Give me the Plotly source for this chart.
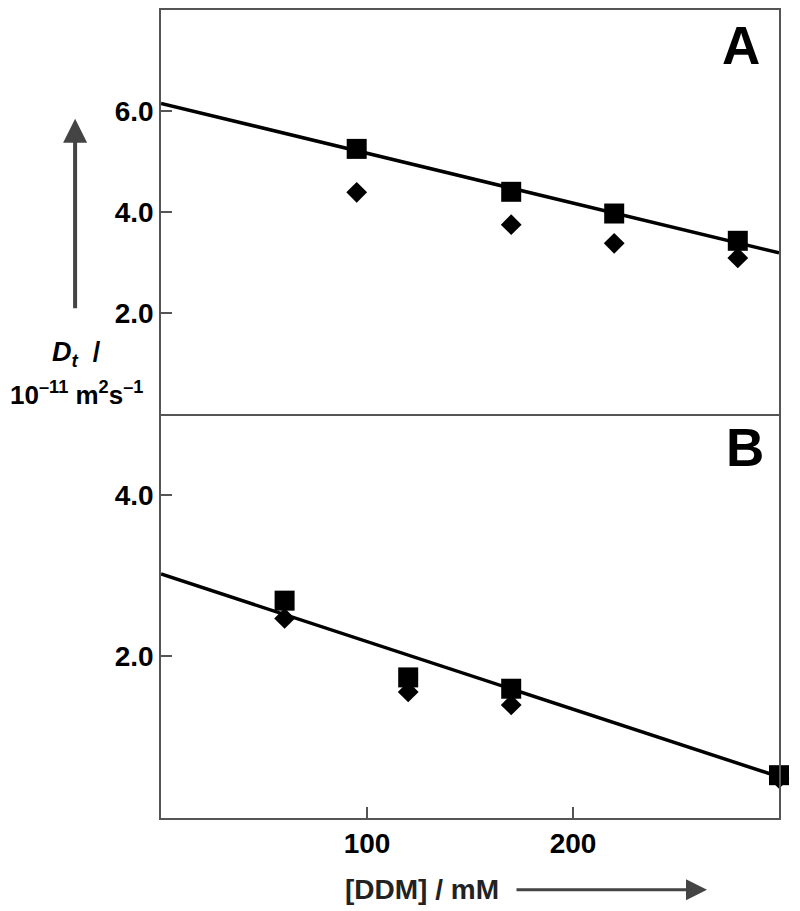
import plotly.graph_objects as go
from plotly.subplots import make_subplots

# panel A data
a_x = [95, 170, 220, 280]
a_sq = [5.25, 4.40, 3.97, 3.43]
a_di = [4.39, 3.75, 3.38, 3.09]
a_fit_x = [0, 300]
a_fit_y = [6.15, 3.19]

# panel B data
b_x = [60, 120, 170, 300]
b_sq = [2.69, 1.74, 1.60, 0.53]
b_di = [2.47, 1.56, 1.40, 0.49]
b_fit_x = [0, 300]
b_fit_y = [3.02, 0.51]

a_ticks = [2, 4, 6]
a_ticklabels = ["2.0", "4.0", "6.0"]
b_ticks = [2, 4]
b_ticklabels = ["2.0", "4.0"]
x_ticks = [100, 200]
x_ticklabels = ["100", "200"]

FONT = "Arial, Liberation Sans, sans-serif"
FRAME = "#555555"


def bold(labels):
    return ["<b>%s</b>" % t for t in labels]


fig = make_subplots(rows=2, cols=1, shared_xaxes=False, vertical_spacing=0)

for row, xs, sq, di, fx, fy in [(1, a_x, a_sq, a_di, a_fit_x, a_fit_y),
                                (2, b_x, b_sq, b_di, b_fit_x, b_fit_y)]:
    fig.add_trace(go.Scatter(x=fx, y=fy, mode="lines",
                             line=dict(color="black", width=3.5)), row=row, col=1)
    fig.add_trace(go.Scatter(x=xs, y=di, mode="markers", cliponaxis=False,
                             marker=dict(symbol="diamond", size=16, color="black")),
                  row=row, col=1)
    fig.add_trace(go.Scatter(x=xs, y=sq, mode="markers", cliponaxis=False,
                             marker=dict(symbol="square", size=20, color="black")),
                  row=row, col=1)

axis_style = dict(showline=True, linecolor=FRAME, linewidth=1.5, mirror=True,
                  showgrid=False, zeroline=False,
                  ticks="inside", ticklen=11, tickwidth=1.5, tickcolor=FRAME,
                  tickfont=dict(family=FONT, size=28, color="black"))

fig.update_xaxes(range=[0, 300], **axis_style)
# panel A draws top and shared middle edge, panel B only its bottom edge
fig.update_xaxes(row=1, col=1, showticklabels=False, ticks="")
fig.update_xaxes(row=2, col=1, mirror=False, tickvals=x_ticks, ticktext=bold(x_ticklabels))
fig.update_yaxes(**axis_style)
fig.update_yaxes(row=1, col=1, range=[0, 8], tickvals=a_ticks, ticktext=bold(a_ticklabels))
fig.update_yaxes(row=2, col=1, range=[0, 5], tickvals=b_ticks, ticktext=bold(b_ticklabels))

annotations = [
    dict(text="<b>A</b>", x=0.9385, y=0.9556, font=dict(size=53)),
    dict(text="<b>B</b>", x=0.945, y=0.459, font=dict(size=53)),
    dict(text="<b><i>D</i><sub><i>t</i></sub>  /</b>", x=-0.137, y=0.574,
         font=dict(size=27)),
    dict(text="<b>10<sup>\u201311</sup> m<sup>2</sup>s<sup>\u20131</sup></b>",
         x=-0.136, y=0.525, font=dict(size=26)),
    dict(text="<b>[DDM] / mM</b>", x=0.4223, y=-0.0889, font=dict(size=28, color="#222222")),
]
for ann in annotations:
    ann.update(xref="paper", yref="paper", showarrow=False,
               xanchor="center", yanchor="middle")
    ann["font"].setdefault("color", "black")
    ann["font"]["family"] = FONT
    fig.add_annotation(**ann)

# axis arrows
fig.add_annotation(xref="paper", yref="paper", x=-0.139, y=0.8654, ax=0, ay=191,
                   text="", showarrow=True, arrowhead=2, arrowsize=1.2,
                   arrowwidth=4, arrowcolor="#444444")
fig.add_annotation(xref="paper", yref="paper", x=0.8835, y=-0.0889, ax=-192, ay=0,
                   text="", showarrow=True, arrowhead=2, arrowsize=1.4,
                   arrowwidth=3, arrowcolor="#444444")

# page body has an 8px margin, so the figure is 8px smaller than the window
fig.update_layout(width=792, height=903, showlegend=False,
                  paper_bgcolor="white", plot_bgcolor="white",
                  margin=dict(l=153, r=21, t=0, b=93))

fig.write_html("out.html")
